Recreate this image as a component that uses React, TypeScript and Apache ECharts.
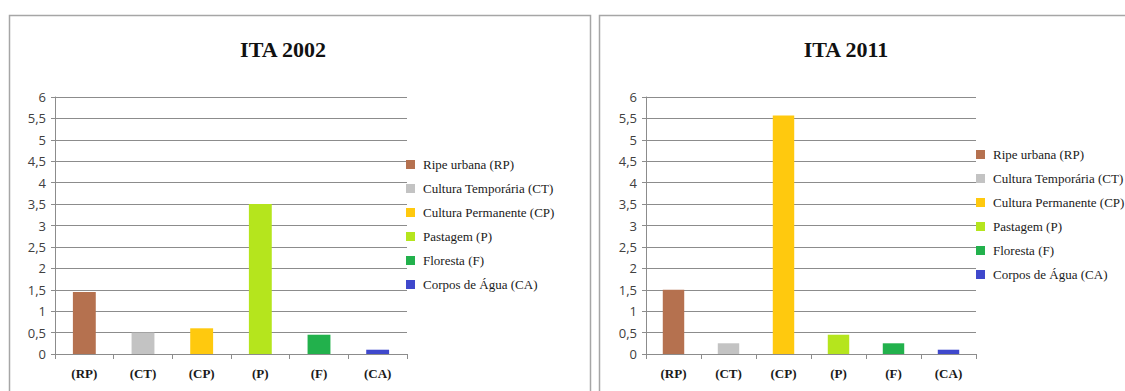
import React, { useEffect, useRef } from "react";
import * as echarts from "echarts";

const categories = ["(RP)", "(CT)", "(CP)", "(P)", "(F)", "(CA)"];
const legendNames = [
  "Ripe urbana (RP)",
  "Cultura Temporária (CT)",
  "Cultura Permanente (CP)",
  "Pastagem (P)",
  "Floresta (F)",
  "Corpos de Água (CA)",
];
const colors = ["#b5714f", "#c3c3c3", "#ffc90e", "#b5e51d", "#22b14c", "#3f48cc"];
const values2002 = [1.45, 0.5, 0.6, 3.5, 0.45, 0.1];
const values2011 = [1.5, 0.25, 5.57, 0.45, 0.25, 0.1];
const titles = ["ITA 2002", "ITA 2011"];

const serif = "'Liberation Serif', 'DejaVu Serif', serif";
const sans = "'Open Sans', 'Noto Sans', sans-serif";

export default function App() {
  const ref = useRef<HTMLDivElement>(null);
  useEffect(() => {
    if (!ref.current) return;
    const chart = echarts.init(ref.current, null, { renderer: "svg" });
    const grids = [
      { left: 55, right: 1125 - 407, top: 97, bottom: 391 - 354 },
      { left: 646, right: 1125 - 976, top: 97, bottom: 391 - 354 },
    ];
    const makeX = (i: number) => ({
      type: "category",
      gridIndex: i,
      data: categories,
      axisLine: { lineStyle: { color: "#8c8c8c", width: 1 } },
      axisTick: { show: true, length: 5, lineStyle: { color: "#8c8c8c" } },
      axisLabel: {
        fontFamily: serif,
        fontWeight: "bold",
        fontSize: 13,
        color: "#1a1a1a",
        margin: 13,
      },
    });
    const makeY = (i: number) => ({
      type: "value",
      gridIndex: i,
      min: 0,
      max: 6,
      interval: 0.5,
      axisLine: { show: true, lineStyle: { color: "#8c8c8c" } },
      axisTick: { show: true, length: 4, lineStyle: { color: "#8c8c8c" } },
      splitLine: { lineStyle: { color: "#8c8c8c", width: 1 } },
      axisLabel: {
        fontFamily: sans,
        fontSize: 13,
        color: "#404040",
        margin: 9,
        formatter: (v: number) => String(v).replace(".", ","),
      },
    });
    const series: any[] = [];
    [values2002, values2011].forEach((vals, ci) => {
      legendNames.forEach((name, i) => {
        series.push({
          type: "bar",
          name,
          xAxisIndex: ci,
          yAxisIndex: ci,
          stack: "s" + ci,
          barWidth: "39%",
          itemStyle: { color: colors[i] },
          data: categories.map((_, j) => (j === i ? vals[i] : "-")),
        });
      });
    });
    const makeLegend = (left: number, top: number) => ({
      orient: "vertical",
      left,
      top,
      data: legendNames.slice(),
      itemWidth: 9,
      itemHeight: 9,
      itemGap: 11,
      icon: "rect",
      selectedMode: false,
      textStyle: { fontFamily: serif, fontSize: 13, color: "#1a1a1a", padding: [0, 0, 0, 3] },
    });
    const makeTitle = (text: string, left: number) => ({
      text,
      left,
      top: 33,
      textAlign: "center",
      textStyle: { fontFamily: serif, fontWeight: "bold", fontSize: 22, color: "#111" },
    });
    chart.setOption({
      animation: false,
      color: colors,
      title: [makeTitle(titles[0], 278), makeTitle(titles[1], 841)],
      legend: [makeLegend(401, 153), makeLegend(971, 143)],
      grid: grids,
      xAxis: [makeX(0), makeX(1)],
      yAxis: [makeY(0), makeY(1)],
      series,
      graphic: [
        {
          type: "rect",
          shape: { x: 9.5, y: 15.5, width: 581, height: 400 },
          style: { fill: "none", stroke: "#a6a6a6", lineWidth: 1.5 },
          silent: true,
          z: -1,
        },
        {
          type: "rect",
          shape: { x: 599.5, y: 15.5, width: 600, height: 400 },
          style: { fill: "none", stroke: "#a6a6a6", lineWidth: 1.5 },
          silent: true,
          z: -1,
        },
      ],
    });
    return () => chart.dispose();
  }, []);
  return (
    <div
      ref={ref}
      style={{ position: "fixed", left: 0, top: 0, width: 1125, height: 391, background: "#fff" }}
    />
  );
}
